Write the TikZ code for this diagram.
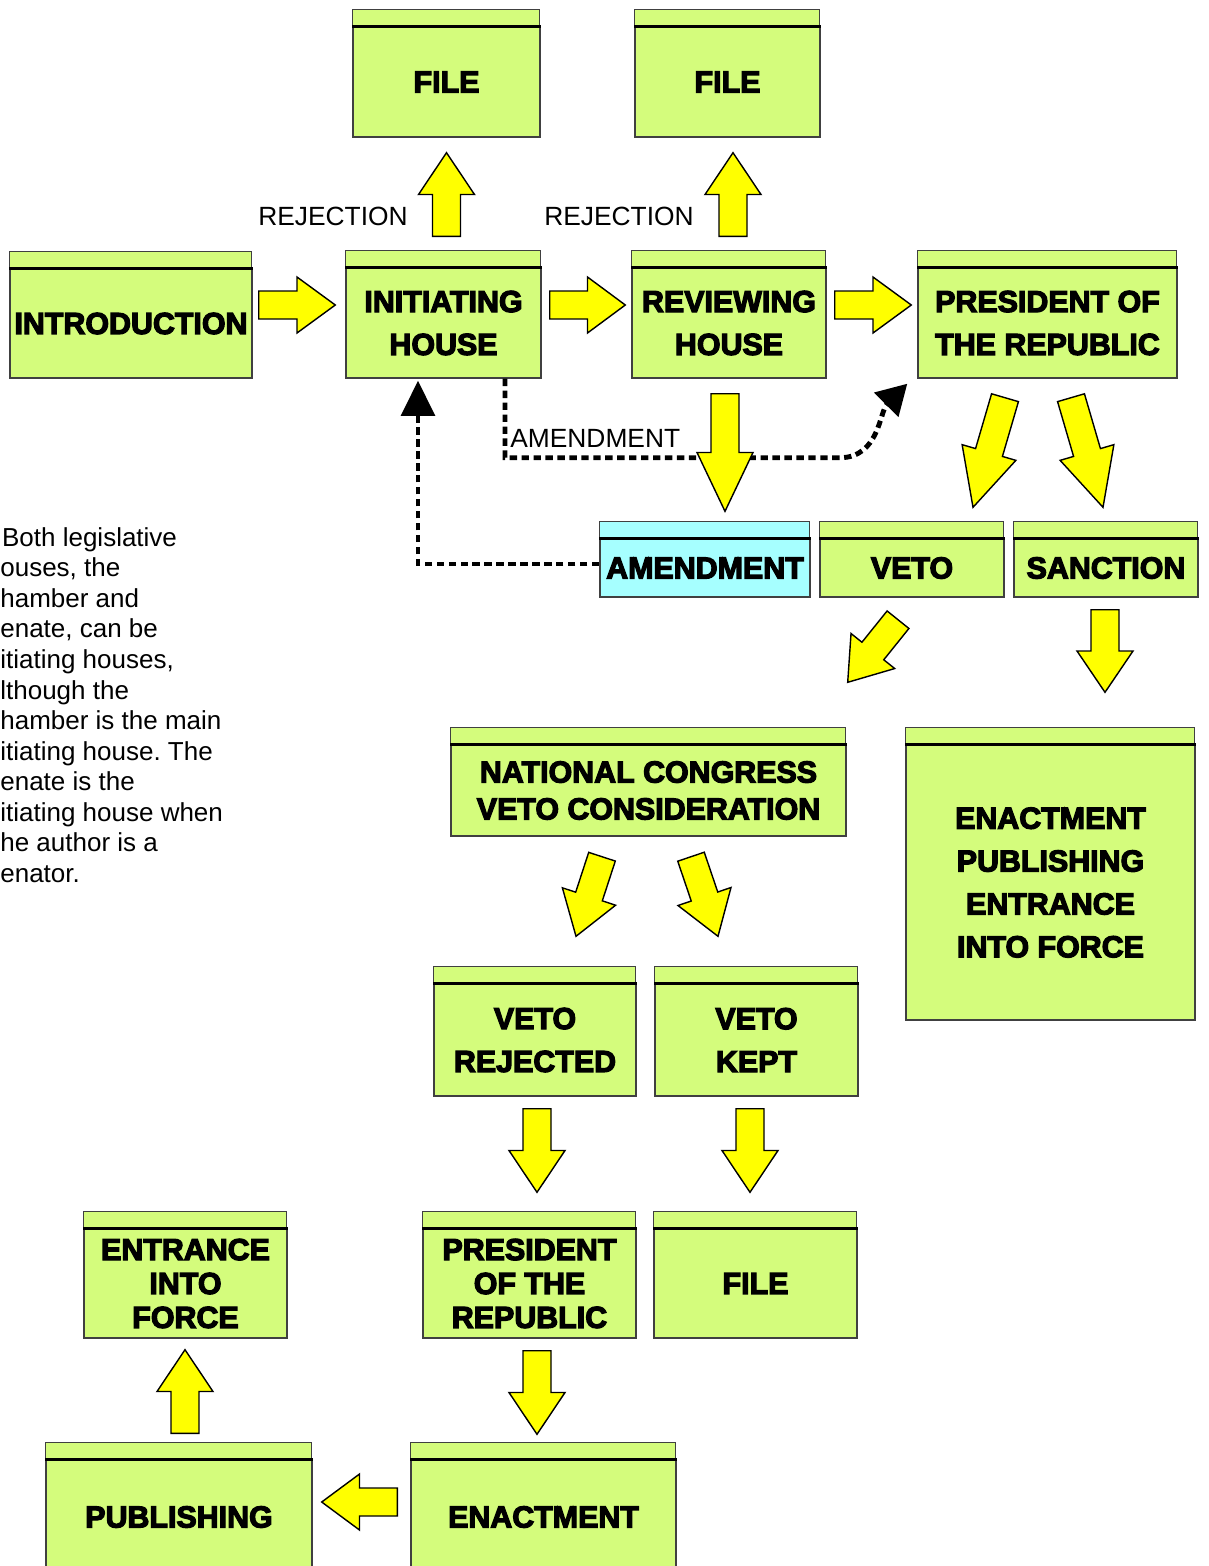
\documentclass[tikz,border=0pt]{standalone}
\usepackage{fontspec}
\setmainfont{Liberation Sans}
\newfontface\heavy{Liberation Sans Bold}[FakeBold=4]
\usetikzlibrary{calc,arrows.meta}
\frenchspacing

\definecolor{boxgreen}{RGB}{212,252,124}
\definecolor{boxcyan}{RGB}{166,255,255}
\definecolor{arrowyellow}{RGB}{255,255,0}

\tikzset{
  stage/.style={draw=black!75, line width=0.8pt, fill=boxgreen, inner xsep=1pt,
    inner ysep=0pt, align=center, font=\heavy\fontsize{17.3}{24.4}\selectfont},
  tight/.style={font=\heavy\fontsize{17.3}{19.3}\selectfont},
  mid/.style={font=\heavy\fontsize{17.3}{21}\selectfont},
  rim/.style={draw=black!75, line width=0.8pt},
  bar/.style={line width=1.7pt},
  block/.style={draw=black, line width=0.8pt, fill=arrowyellow, line join=miter},
  amendline/.style={line width=2.8pt, dash pattern=on 4.2pt off 2.6pt},
  lbl/.style={font=\fontsize{15}{18}\selectfont, inner sep=0pt},
  note/.style={anchor=north west, inner sep=0pt, align=left,
    font=\fontsize{14.8}{17.4}\selectfont},
}

% box with a header strip: [options]{name}{x1}{y1}{x2}{y2}{text}
\newcommand{\stage}[7][]{%
  \node[stage, #1, minimum width={(#5-#3)*0.02cm}, minimum height={(#6-#4-17)*0.02cm}]
    (#2) at ({(#3+#5)/2},{(#4+17+#6)/2}) {#7};
  \draw[rim, fill=boxgreen, #1] (#2.north west) rectangle ++({#5-#3},-17);
  \draw[bar] (#2.north west) -- (#2.north east);
}

% fat yellow arrow from #1 to #2
\newcommand{\push}[2]{%
  \coordinate (pa) at #1;
  \coordinate (pb) at #2;
  \coordinate (pm) at ($(pa)!0.5!(pb)$);
  \draw[block] ($(pa)!0.28cm!90:(pb)$) -- ($(pm)!0.28cm!90:(pb)$)
    -- ($(pm)!0.56cm!90:(pb)$) -- (pb) -- ($(pm)!0.56cm!-90:(pb)$)
    -- ($(pm)!0.28cm!-90:(pb)$) -- ($(pa)!0.28cm!-90:(pb)$) -- cycle;
}

\begin{document}
\begin{tikzpicture}[x=0.02cm, y=-0.02cm]
\useasboundingbox (0,0) rectangle (1209,1566);

% top row
\stage{fileA}{353}{10}{540}{137}{FILE}
\stage{fileB}{635}{10}{820}{137}{FILE}
\stage{intro}{10}{252}{252}{378}{INTRODUCTION}
\stage{init}{346}{251}{541}{378}{INITIATING\\HOUSE}
\stage{review}{632}{251}{826}{378}{REVIEWING\\HOUSE}
\stage{pres}{918}{251}{1177}{378}{PRESIDENT OF\\THE REPUBLIC}

% second row
\stage[fill=boxcyan]{amend}{600}{522}{810}{597}{AMENDMENT}
\stage{veto}{820}{522}{1004}{597}{VETO}
\stage{sanction}{1014}{522}{1198}{597}{SANCTION}

% veto branch
\stage[mid]{congress}{451}{728}{846}{836}{NATIONAL CONGRESS\\VETO CONSIDERATION}
\stage{enactA}{906}{728}{1195}{1020}{ENACTMENT\\PUBLISHING\\ENTRANCE\\INTO FORCE}
\stage{vrej}{434}{967}{636}{1096}{VETO\\REJECTED}
\stage{vkept}{655}{967}{858}{1096}{VETO\\KEPT}
\stage[tight]{force}{84}{1212}{287}{1338}{ENTRANCE\\INTO\\FORCE}
\stage[tight]{presB}{423}{1212}{636}{1338}{PRESIDENT\\OF THE\\REPUBLIC}
\stage{fileC}{654}{1212}{857}{1338}{FILE}
\stage{publish}{46}{1443}{312}{1574}{PUBLISHING}
\stage{enactB}{411}{1443}{676}{1574}{ENACTMENT}

% amendment loops
\draw[amendline, -{Triangle[length=17pt,width=19pt]}]
  ($(init.south)+(61.5,0)$) -- ++(0,79) -- ++(335,0)
  to[out=0, in=225] ($(pres.south west)+(-10,5)$);
\draw[amendline, -{Triangle[length=20pt,width=19pt]}]
  ($(amend.west)+(0,-4)$) -| ($(init.south)+(-25.5,2)$);

% yellow arrows
\push{($(init.north)+(3,-31)$)}{($(fileA.south)+(0,15)$)}
\push{($(review.north)+(4,-31)$)}{($(fileB.south)+(5.5,15)$)}
\push{($(intro.east)+(6,-18.5)$)}{($(init.west)+(-10,-18)$)}
\push{($(init.east)+(8,-18)$)}{($(review.west)+(-6,-18)$)}
\push{($(review.east)+(8,-18)$)}{($(pres.west)+(-6,-18)$)}
\push{($(review.south)+(-4,15)$)}{($(amend.north)+(20,-27)$)}
\push{($(pres.south)+(-42.5,19)$)}{($(veto.north)+(61,-31)$)}
\push{($(pres.south)+(23.5,19)$)}{($(sanction.north)+(-3,-31)$)}
\push{($(veto.south)+(-14,22)$)}{($(congress.north east)+(1,-62)$)}
\push{($(sanction.south)+(-1,12)$)}{($(enactA.north)+(54.5,-52)$)}
\push{($(congress.south)+(-46.5,20)$)}{($(vrej.north)+(41,-47)$)}
\push{($(congress.south)+(42.5,20)$)}{($(vkept.north)+(-38.5,-47)$)}
\push{($(vrej.south)+(2,12)$)}{($(presB.north)+(7.5,-36)$)}
\push{($(vkept.south)+(-6.5,12)$)}{($(fileC.north)+(-5.5,-36)$)}
\push{($(presB.south)+(7.5,12)$)}{($(enactB.north)+(-6.5,-25)$)}
\push{($(enactB.west)+(-13,-15)$)}{($(publish.east)+(9,-15)$)}
\push{($(publish.north)+(6,-26)$)}{($(force.south)+(-0.5,11)$)}

% labels
\node[lbl] (rejA) at (333,216) {REJECTION};
\node[lbl] (rejB) at (619,216) {REJECTION};
\node[lbl, anchor=west] (amendtag) at (510,438) {AMENDMENT};

\node[note] (remark) at (0,527) {\hspace{1pt}Both legislative\\ouses, the\\hamber and\\enate, can be\\itiating houses,\\lthough the\\hamber is the main\\itiating house. The\\enate is the\\itiating house when\\he author is a\\enator.};
\end{tikzpicture}
\end{document}
